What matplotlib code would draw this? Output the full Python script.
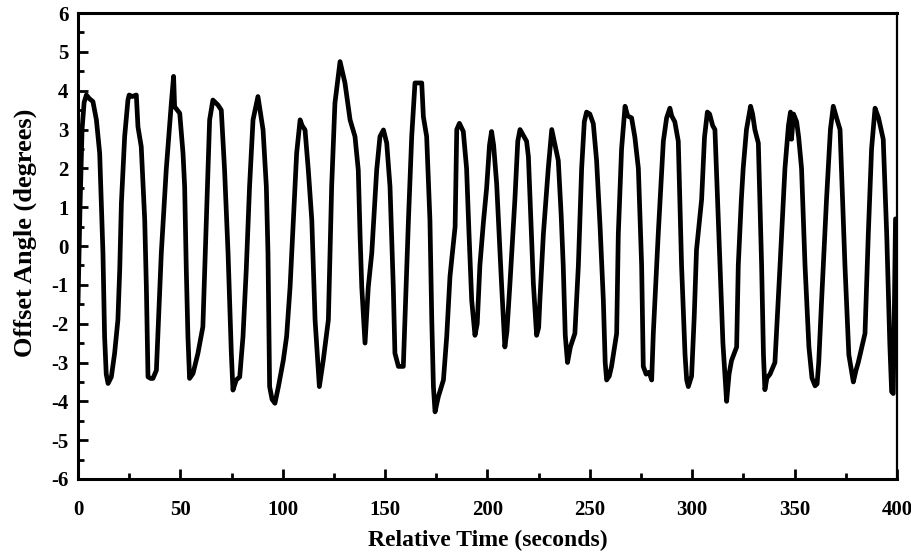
import numpy as np
import matplotlib
matplotlib.use('Agg')
import matplotlib.pyplot as plt
from matplotlib.ticker import MultipleLocator

# data (time in s, offset angle in degrees)
time_s = [
    0, 1.0, 2.0, 3.0, 4.1, 5.5, 7.3, 9.0, 10.6, 12.2,
    13.0, 13.8, 14.7, 16.3, 17.9, 19.5, 20.4, 21.2, 22.8, 24.4,
    25.0, 26.5, 28.5, 29.3, 30.9, 32.6, 33.4, 34.2, 35.5, 36.6,
    38.3, 39.0, 40.7, 43.1, 45.6, 46.7, 47.2, 49.7, 51.3, 52.1,
    52.9, 53.7, 54.5, 56.2, 58.6, 61.0, 61.9, 63.5, 64.3, 65.9,
    68.4, 70.0, 71.6, 73.3, 74.9, 75.7, 77.3, 79.0, 80.6, 82.2,
    83.8, 85.5, 87.9, 90.4, 92.0, 92.8, 93.6, 94.8, 96.2, 97.9,
    100.3, 101.9, 103.6, 105.2, 106.8, 108.5, 109.5, 110.9, 112.5, 114.2,
    115.8, 117.4, 117.9, 119.8, 122.3, 123.1, 123.9, 125.5, 128.0, 130.4,
    132.9, 135.3, 136.9, 137.8, 138.6, 140.2, 141.8, 143.5, 145.9, 147.5,
    149.2, 150.8, 152.4, 154.0, 154.8, 156.5, 158.9, 159.7, 161.4, 163.0,
    164.6, 167.9, 168.7, 170.3, 171.9, 172.8, 173.6, 174.4, 176.0, 178.5,
    180.1, 181.7, 184.2, 185.0, 186.3, 188.2, 189.8, 191.0, 192.3, 193.9,
    195.0, 196.3, 198.0, 199.6, 201.0, 202.0, 203.0, 204.5, 205.5, 206.9,
    208.5, 209.5, 211.0, 213.4, 214.8, 215.9, 217.5, 219.1, 220.0, 220.8,
    222.4, 224.0, 225.0, 225.6, 227.3, 229.7, 231.4, 233.0, 234.6, 236.0,
    237.0, 238.0, 239.1, 240.5, 242.7, 244.4, 246.0, 247.3, 248.4, 250.0,
    251.7, 253.3, 255.0, 256.6, 257.5, 258.2, 259.5, 260.6, 263.1, 263.9,
    265.5, 267.2, 268.5, 270.4, 272.0, 273.7, 275.3, 276.1, 277.5, 279.0,
    280.2, 281.0, 283.4, 285.9, 287.5, 289.1, 290.0, 291.5, 293.2, 294.8,
    296.5, 297.3, 298.1, 299.7, 301.0, 302.1, 304.6, 306.0, 307.4, 308.5,
    310.0, 311.1, 312.5, 313.6, 315.0, 316.8, 318.0, 319.2, 321.7, 322.5,
    324.0, 324.9, 326.5, 328.5, 329.5, 330.6, 332.3, 333.9, 334.8, 335.5,
    336.5, 338.0, 340.4, 342.9, 345.3, 347.0, 348.0, 348.5, 349.5, 351.0,
    352.0, 353.4, 355.1, 357.0, 358.5, 360.0, 361.0, 361.8, 363.2, 365.6,
    367.5, 368.9, 370.5, 372.2, 374.6, 376.5, 378.7, 380.0, 381.1, 384.4,
    386.0, 387.6, 389.3, 391.0, 393.3, 395.0, 396.5, 397.4, 398.2, 399.3,
]
offset_deg = [
    -1.5, 1.0, 3.0, 3.7, 3.89, 3.8, 3.72, 3.25, 2.39, -0.18,
    -2.33, -3.3, -3.54, -3.37, -2.76, -1.9, -0.6, 1.1, 2.82, 3.76,
    3.89, 3.85, 3.89, 3.07, 2.56, 0.67, -1.05, -3.37, -3.41, -3.41,
    -3.2, -2.33, -0.18, 1.96, 3.68, 4.37, 3.59, 3.42, 2.39, 1.53,
    -0.6, -2.33, -3.41, -3.28, -2.76, -2.08, -0.6, 1.96, 3.25, 3.76,
    3.63, 3.5, 1.96, -0.18, -2.76, -3.71, -3.45, -3.37, -2.33, -0.6,
    1.53, 3.25, 3.85, 2.99, 1.53, -0.18, -3.62, -3.95, -4.05, -3.62,
    -2.94, -2.33, -1.05, 0.67, 2.39, 3.25, 3.1, 2.99, 1.96, 0.67,
    -1.9, -3.2, -3.62, -2.94, -1.9, -0.18, 1.53, 3.68, 4.75, 4.2,
    3.25, 2.82, 1.96, 0.24, -1.05, -2.5, -1.05, -0.18, 1.96, 2.82,
    2.99, 2.65, 1.53, -1.05, -2.76, -3.1, -3.1, -1.9, 0.67, 2.82,
    4.2, 4.2, 3.33, 2.82, 0.67, -1.9, -3.62, -4.27, -3.88, -3.45,
    -2.33, -0.78, 0.5, 3.0, 3.16, 2.95, 2.0, 0.3, -1.4, -2.3,
    -2.0, -0.5, 0.6, 1.5, 2.6, 2.95, 2.6, 1.6, 0.5, -1.0,
    -2.6, -2.2, -0.95, 1.2, 2.7, 3.0, 2.85, 2.7, 2.3, 1.2,
    -0.95, -2.3, -2.1, -1.4, 0.3, 2.0, 3.0, 2.6, 2.2, 0.8,
    -0.5, -2.3, -3.0, -2.6, -2.25, -0.5, 2.0, 3.2, 3.45, 3.4,
    3.15, 2.2, 0.5, -1.4, -3.0, -3.45, -3.35, -3.1, -2.25, 0.3,
    2.5, 3.6, 3.35, 3.3, 2.8, 2.0, -0.5, -3.1, -3.3, -3.25,
    -3.45, -2.25, 0.3, 2.7, 3.3, 3.55, 3.35, 3.2, 2.7, -0.5,
    -2.8, -3.45, -3.62, -3.35, -1.8, -0.1, 1.2, 2.8, 3.45, 3.4,
    3.1, 3.0, 1.0, -0.5, -2.5, -4.0, -3.3, -2.95, -2.6, -0.5,
    1.2, 2.0, 3.0, 3.6, 3.4, 3.0, 2.65, -0.5, -2.8, -3.7,
    -3.4, -3.3, -3.0, -0.5, 2.0, 3.1, 3.45, 2.75, 3.4, 3.2,
    2.8, 2.0, -0.5, -2.6, -3.4, -3.6, -3.55, -3.0, -1.4, 1.2,
    3.0, 3.6, 3.3, 3.0, -0.5, -2.8, -3.5, -3.2, -3.0, -2.25,
    0.3, 2.5, 3.55, 3.3, 2.75, 0.3, -2.5, -3.75, -3.8, 0.7,
]

plt.rcParams['font.family'] = ['Liberation Serif', 'DejaVu Serif']
plt.rcParams['font.weight'] = 'bold'
plt.rcParams['axes.unicode_minus'] = False

fig = plt.figure(figsize=(9.12, 5.56), dpi=100)
ax = fig.add_axes([0.0855, 0.1385, 0.898, 0.838])

ax.plot(time_s, offset_deg, color='black', lw=3.4,
        solid_joinstyle='round', solid_capstyle='round')

ax.set_xlim(0, 400)
ax.set_ylim(-6, 6)
ax.xaxis.set_major_locator(MultipleLocator(50))
ax.xaxis.set_minor_locator(MultipleLocator(25))
ax.yaxis.set_major_locator(MultipleLocator(1))
ax.yaxis.set_minor_locator(MultipleLocator(0.5))
ax.tick_params(which='both', direction='in', top=False, right=False, width=2,
               labelsize=15)
ax.tick_params(axis='x', pad=15)
ax.tick_params(axis='y', pad=7)
ax.tick_params(which='major', length=7)
ax.tick_params(which='minor', length=4)

for side in ['left', 'bottom', 'top']:
    ax.spines[side].set_linewidth(2.2)
ax.spines['right'].set_linewidth(1.6)

ax.set_xlabel('Relative Time (seconds)', fontsize=17, fontweight='bold')
ax.set_ylabel('Offset Angle (degrees)', fontsize=19, fontweight='bold')
ax.xaxis.set_label_coords(0.5, -0.109)
ax.yaxis.set_label_coords(-0.050, 0.528)

fig.savefig('out.png', dpi=100)
